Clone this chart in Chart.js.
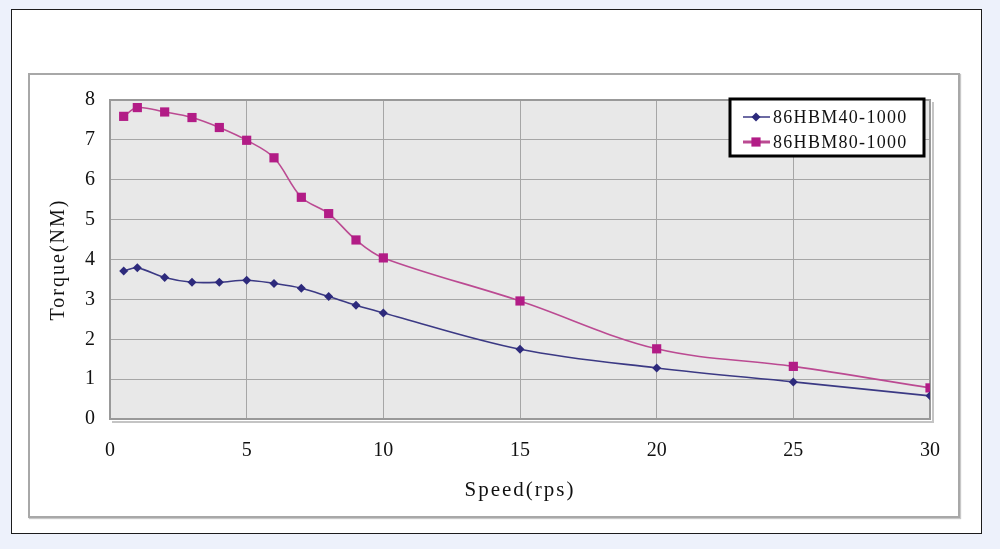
<!DOCTYPE html>
<html>
<head>
<meta charset="utf-8">
<script src="https://cdn.jsdelivr.net/npm/chart.js@4.4.1/dist/chart.umd.min.js"></script>
<style>
  html, body { margin: 0; padding: 0; background: #edf1fb; }
  #frame { position: absolute; left: 11px; top: 9px; width: 969px; height: 523px; border: 1px solid #1c1c1c; background: #fff; }
  #inner { position: absolute; left: 28px; top: 73px; width: 928px; height: 441px; border: 2px solid #a8a8a8; box-shadow: 1px 1px 1px #c8c8c8; }
  #wrap { position: absolute; left: 0; top: 0; width: 1000px; height: 549px; }
</style>
</head>
<body>
<div id="frame"></div>
<div id="inner"></div>
<div id="wrap"><canvas id="torqueChart"></canvas></div>
<script>
// speed (rps) vs torque (NM)
const speeds = [0.5, 1, 2, 3, 4, 5, 6, 7, 8, 9, 10, 15, 20, 25, 30];
const torque40 = [3.71, 3.79, 3.55, 3.43, 3.43, 3.48, 3.40, 3.28, 3.07, 2.85, 2.66, 1.75, 1.28, 0.93, 0.58];
const torque80 = [7.59, 7.81, 7.70, 7.56, 7.31, 6.99, 6.55, 5.56, 5.15, 4.49, 4.04, 2.96, 1.76, 1.32, 0.78];
const seriesNames = ['86HBM40-1000', '86HBM80-1000'];
const xTitle = 'Speed(rps)';
const yTitle = 'Torque(NM)';

const serif = '"Liberation Serif", "Times New Roman", serif';
const blue = '#2d2a7c';
const blueLine = '#3b3984';
const magenta = '#b21c86';
const magentaLine = '#bb4a92';

const toPoints = (ys) => speeds.map((s, i) => ({ x: s, y: ys[i] }));

// grey plot area, its frame, and spaced-out axis titles
const plotStyle = {
    id: 'plotStyle',
    beforeDraw(chart) {
        const { ctx, chartArea: a } = chart;
        ctx.save();
        ctx.fillStyle = '#e8e8e8';
        ctx.fillRect(a.left, a.top, a.right - a.left, a.bottom - a.top);
        ctx.restore();
        // titles are drawn in this pass (ticks have z 1), so they get the spacing
        ctx.letterSpacing = '2px';
    },
    beforeDatasetsDraw(chart) {
        const { ctx, chartArea: a } = chart;
        ctx.letterSpacing = '0px';
        ctx.save();
        ctx.strokeStyle = '#c4c4c4';
        ctx.lineWidth = 2;
        ctx.beginPath();
        ctx.moveTo(a.left + 2, a.bottom + 3);
        ctx.lineTo(a.right + 3, a.bottom + 3);
        ctx.lineTo(a.right + 3, a.top + 2);
        ctx.stroke();
        ctx.strokeStyle = '#999';
        ctx.lineWidth = 2;
        ctx.strokeRect(a.left, a.top, a.right - a.left, a.bottom - a.top);
        ctx.restore();
    }
};

// boxed legend in the top right corner of the plot
const boxLegend = {
    id: 'boxLegend',
    afterDraw(chart) {
        const { ctx, chartArea: a } = chart;
        const w = 194, h = 57;
        const x = a.right - 6 - w, y = a.top - 1;
        ctx.save();
        ctx.fillStyle = '#fff';
        ctx.fillRect(x, y, w, h);
        ctx.strokeStyle = '#000';
        ctx.lineWidth = 3;
        ctx.strokeRect(x, y, w, h);
        chart.data.datasets.forEach((ds, i) => {
            const cy = y + 18 + i * 25;
            ctx.strokeStyle = ds.borderColor;
            ctx.lineWidth = i === 0 ? 1.5 : 3;
            ctx.beginPath();
            ctx.moveTo(x + 13, cy);
            ctx.lineTo(x + 40, cy);
            ctx.stroke();
            ctx.fillStyle = ds.pointBackgroundColor;
            Chart.helpers.drawPoint(ctx, { pointStyle: ds.pointStyle, radius: ds.pointRadius, borderWidth: 0 }, x + 26, cy);
            ctx.fillStyle = '#111';
            ctx.font = '18px ' + serif;
            ctx.letterSpacing = '1.3px';
            ctx.textBaseline = 'middle';
            ctx.fillText(ds.label, x + 43, cy + 1);
        });
        ctx.restore();
    }
};

new Chart(document.getElementById('torqueChart'), {
    type: 'line',
    data: {
        datasets: [
            {
                label: seriesNames[0], data: toPoints(torque40),
                borderColor: blueLine, borderWidth: 1.6, tension: 0.35,
                pointStyle: 'rectRot', pointRadius: 4.5, pointBorderWidth: 0,
                pointBackgroundColor: blue
            },
            {
                label: seriesNames[1], data: toPoints(torque80),
                borderColor: magentaLine, borderWidth: 1.6, tension: 0.35,
                pointStyle: 'rect', pointRadius: 6.5, pointBorderWidth: 0,
                pointBackgroundColor: magenta
            }
        ]
    },
    options: {
        responsive: true,
        maintainAspectRatio: false,
        animation: false,
        layout: { padding: { left: 47, top: 100, right: 70, bottom: 46 } },
        plugins: { legend: { display: false }, tooltip: { enabled: false } },
        scales: {
            x: {
                type: 'linear', min: 0, max: 30,
                afterFit: (s) => { s.height = 84; },
                grid: { color: '#a6a6a6', lineWidth: 1, drawTicks: false },
                border: { display: false },
                ticks: { stepSize: 5, padding: 20, color: '#111', font: { family: serif, size: 20 }, z: 1 },
                title: { display: true, text: xTitle, color: '#111', padding: 0, font: { family: serif, size: 21 } }
            },
            y: {
                min: 0, max: 8,
                afterFit: (s) => { s.width = 63; },
                grid: { color: '#a6a6a6', lineWidth: 1, drawTicks: false },
                border: { display: false },
                ticks: { stepSize: 1, padding: 15, color: '#111', font: { family: serif, size: 20 }, z: 1 },
                title: { display: true, text: yTitle, color: '#111', padding: 0, font: { family: serif, size: 20 } }
            }
        }
    },
    plugins: [plotStyle, boxLegend]
});
</script>
</body>
</html>
